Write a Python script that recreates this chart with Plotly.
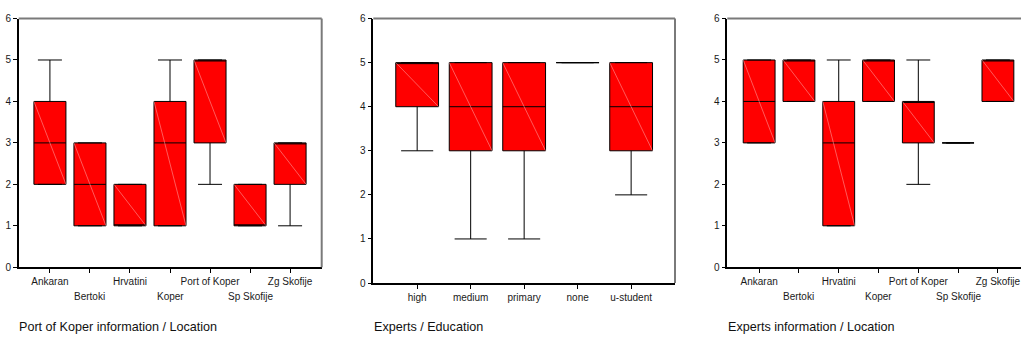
import plotly.graph_objects as go

# ---------------- data ----------------
loc_labels = ["Ankaran", "Bertoki", "Hrvatini", "Koper", "Port of Koper", "Sp Skofije", "Zg Skofije"]
edu_labels = ["high", "medium", "primary", "none", "u-student"]

# Panel 1: Port of Koper information / Location
p1_min = [2, 1, 1, 1, 2, 1, 1]
p1_q1 = [2, 1, 1, 1, 3, 1, 2]
p1_med = [3, 2, 1, 3, 5, 1, 3]
p1_q3 = [4, 3, 2, 4, 5, 2, 3]
p1_max = [5, 3, 2, 5, 5, 2, 3]

# Panel 2: Experts / Education
p2_min = [3, 1, 1, 5, 2]
p2_q1 = [4, 3, 3, 5, 3]
p2_med = [5, 4, 4, 5, 4]
p2_q3 = [5, 5, 5, 5, 5]
p2_max = [5, 5, 5, 5, 5]

# Panel 3: Experts information / Location
p3_min = [3, 4, 1, 4, 2, 3, 4]
p3_q1 = [3, 4, 1, 4, 3, 3, 4]
p3_med = [4, 5, 3, 5, 4, 3, 5]
p3_q3 = [5, 5, 4, 5, 4, 3, 5]
p3_max = [5, 5, 5, 5, 5, 3, 5]

titles = ["Port of Koper information / Location", "Experts / Education", "Experts information / Location"]

# ---------------- figure ----------------
W, H = 1021, 341
FONT = "Liberation Sans, Arial, sans-serif"
BOXW = 0.8

fig = go.Figure()

panels = [
    dict(labels=loc_labels, mn=p1_min, q1=p1_q1, md=p1_med, q3=p1_q3, mx=p1_max, xa="x", ya="y"),
    dict(labels=edu_labels, mn=p2_min, q1=p2_q1, md=p2_med, q3=p2_q3, mx=p2_max, xa="x2", ya="y2"),
    dict(labels=loc_labels, mn=p3_min, q1=p3_q1, md=p3_med, q3=p3_q3, mx=p3_max, xa="x3", ya="y3"),
]

for p in panels:
    xs = list(range(len(p["labels"])))
    fig.add_trace(go.Box(
        x=xs, q1=p["q1"], median=p["md"], q3=p["q3"],
        lowerfence=p["mn"], upperfence=p["mx"],
        width=BOXW, whiskerwidth=0.75,
        fillcolor="#FF0000", line=dict(color="black", width=1),
        boxpoints=False, xaxis=p["xa"], yaxis=p["ya"], hoverinfo="skip",
    ))
    # faint diagonal rendering artefact in each box
    dx, dy = [], []
    for i, (a, b) in enumerate(zip(p["q1"], p["q3"])):
        if b > a:
            dx += [i - BOXW / 2, i + BOXW / 2, None]
            dy += [b, a, None]
    fig.add_trace(go.Scatter(
        x=dx, y=dy, mode="lines",
        line=dict(color="rgba(255,190,190,0.8)", width=0.6),
        xaxis=p["xa"], yaxis=p["ya"], hoverinfo="skip",
    ))

def px_x(v):
    return v / W

def px_y(v):
    return (H - v) / H

dom = [
    dict(x=[px_x(18.7), px_x(321.7)], y=[px_y(271), px_y(14)], rng=[-0.78, 6.79]),
    dict(x=[px_x(373.3), px_x(675.0)], y=[px_y(287.3), px_y(14)], rng=[-0.82, 4.82]),
    dict(x=[px_x(727.3), 1.0], y=[px_y(271), px_y(14)], rng=[-0.80, 6.58]),
]

axis_common = dict(
    showgrid=False, zeroline=False, showline=True, linecolor="black", linewidth=1.5,
    ticks="outside", ticklen=4, tickcolor="black", tickwidth=1,
    tickfont=dict(family=FONT, size=10, color="#1a1a1a"),
)

layout = dict(
    width=W, height=H, margin=dict(l=0, r=0, t=0, b=0),
    paper_bgcolor="white", plot_bgcolor="white", showlegend=False,
    font=dict(family=FONT, color="#1a1a1a"),
)

annotations = []
shapes = []
for k, (p, d) in enumerate(zip(panels, dom)):
    sfx = "" if k == 0 else str(k + 1)
    n = len(p["labels"])
    staggered = n > 5
    ticktext = [lab if (not staggered or i % 2 == 0) else "" for i, lab in enumerate(p["labels"])]
    layout["xaxis" + sfx] = dict(
        axis_common, domain=d["x"], range=d["rng"], anchor="y" + sfx,
        tickmode="array", tickvals=list(range(n)), ticktext=ticktext,
    )
    layout["yaxis" + sfx] = dict(
        axis_common, domain=d["y"], range=[0, 6], anchor="x" + sfx,
        tickmode="linear", tick0=0, dtick=1,
    )
    if staggered:
        for i, lab in enumerate(p["labels"]):
            if i % 2 == 1:
                annotations.append(dict(
                    x=i, xref="x" + sfx, y=px_y(301.5), yref="paper",
                    text=lab, showarrow=False, xanchor="center", yanchor="middle",
                    font=dict(family=FONT, size=10, color="#1a1a1a"),
                ))
    # gray frame: top and right
    shapes.append(dict(type="line", xref="x" + sfx + " domain", yref="y" + sfx + " domain",
                       x0=0, x1=1, y0=1, y1=1, line=dict(color="#7a7a7a", width=2)))
    if k < 2:
        shapes.append(dict(type="line", xref="x" + sfx + " domain", yref="y" + sfx + " domain",
                           x0=1, x1=1, y0=0, y1=1, line=dict(color="#7a7a7a", width=2)))
    annotations.append(dict(
        x=d["x"][0] - 1.4 / W, xref="paper", y=px_y(333), yref="paper",
        text=titles[k], showarrow=False, xanchor="left", yanchor="middle",
        font=dict(family=FONT, size=12.6, color="#111111"),
    ))

layout["annotations"] = annotations
layout["shapes"] = shapes
fig.update_layout(**layout)

fig.write_html(
    "out.html",
    config={"displayModeBar": False},
    post_script="document.body.style.margin='0';document.body.style.overflow='hidden';",
)
